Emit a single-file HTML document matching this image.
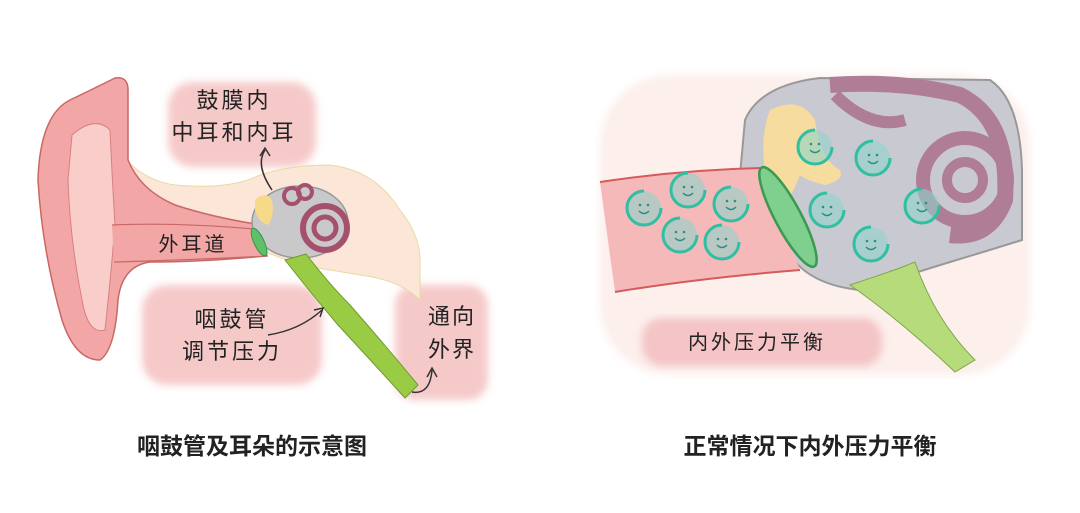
<!DOCTYPE html>
<html><head><meta charset="utf-8"><style>
html,body{margin:0;padding:0;background:#fff;}
svg{display:block;}
text{font-family:"Liberation Sans","Noto Sans CJK SC",sans-serif;fill:#222;}
</style></head><body>
<svg width="1080" height="513" viewBox="0 0 1080 513" xmlns="http://www.w3.org/2000/svg">
<defs>
<filter id="soft"><feGaussianBlur stdDeviation="4"/></filter>
<g id="smile">
<circle r="17" fill="#8fd3c9" opacity="0.6"/>
<circle r="17" fill="none" stroke="#2fbfa3" stroke-width="3" stroke-dasharray="80 27"/>
<circle cx="-4" cy="-3" r="1.3" fill="#2a8f80"/><circle cx="4" cy="-3" r="1.3" fill="#2a8f80"/>
<path d="M-5 3 Q0 8 5 3" stroke="#2a8f80" stroke-width="1.5" fill="none"/>
</g>
</defs>

<!-- LEFT FIGURE -->
<g filter="url(#soft)" fill="#f6c9c9">
<rect x="168" y="82" width="148" height="85" rx="25"/>
<rect x="142" y="285" width="180" height="100" rx="25"/>
<rect x="395" y="285" width="93" height="115" rx="20"/>
</g>
<!-- peach region -->
<path d="M118 150 Q140 180 175 185 Q230 190 260 175 Q290 165 330 165 Q375 170 400 210 Q420 235 420 260 L420 300 Q400 280 360 275 L300 265 L260 250 L130 250 Z" fill="#fbe6d8" stroke="#e8dba0" stroke-width="1"/>
<!-- ear -->
<path d="M115 78 Q128 76 128 90 L128 160 Q140 190 175 205 Q215 218 262 225 L266 256 Q200 262 150 262 Q122 266 118 300 Q115 350 100 360 Q75 360 62 320 Q42 250 38 180 Q40 115 70 100 Q95 88 115 78 Z" fill="#f3a6a6" stroke="#c96767" stroke-width="1.5"/>
<path d="M72 135 Q95 115 110 130 Q112 175 115 225 Q110 285 105 330 Q88 335 82 300 Q70 240 68 180 Z" fill="#f8cdca" stroke="#d88080" stroke-width="1"/>
<path d="M112 225 L265 230 L268 256 L114 262 Z" fill="#f3a6a6"/>
<path d="M112 225 Q180 222 265 230 M114 262 Q190 260 268 256" stroke="#c96767" stroke-width="1.2" fill="none"/>
<!-- middle ear -->
<ellipse cx="300" cy="222" rx="48" ry="36" fill="#c9c9cc" stroke="#999" stroke-width="1.5"/>
<path d="M255 200 Q265 190 272 200 Q275 215 268 225 Q258 222 255 210 Z" fill="#f7d98a"/>
<circle cx="325" cy="228" r="22" fill="none" stroke="#a5506c" stroke-width="6"/>
<circle cx="325" cy="228" r="11" fill="none" stroke="#a5506c" stroke-width="5"/>
<circle cx="292" cy="196" r="8" fill="none" stroke="#a5506c" stroke-width="4"/>
<circle cx="305" cy="192" r="7" fill="none" stroke="#a5506c" stroke-width="4"/>
<ellipse cx="259" cy="242" rx="5" ry="15" transform="rotate(-25 259 242)" fill="#5fbf6a" stroke="#2f9a45"/>
<!-- eustachian tube -->
<path d="M285 260 L306 254 Q330 285 350 305 Q385 345 418 385 L405 398 Q375 365 338 325 Q310 292 285 260 Z" fill="#9acb45" stroke="#6f9a2c" stroke-width="1"/>
<!-- arrows -->
<path d="M272 190 Q255 165 265 150" stroke="#333" stroke-width="1.5" fill="none"/>
<path d="M260 156 L265 148 L270 156" stroke="#333" stroke-width="1.5" fill="none"/>
<path d="M268 335 Q300 330 322 310" stroke="#333" stroke-width="1.5" fill="none"/>
<path d="M314 310 L323 308 L320 317" stroke="#333" stroke-width="1.5" fill="none"/>
<path d="M412 392 Q430 395 432 370" stroke="#333" stroke-width="1.5" fill="none"/>
<path d="M427 377 L432 368 L437 377" stroke="#333" stroke-width="1.5" fill="none"/>
<!-- labels -->
<text x="234" y="108" font-size="22" text-anchor="middle" letter-spacing="3">鼓膜内</text>
<text x="234" y="140" font-size="22" text-anchor="middle" letter-spacing="3">中耳和内耳</text>
<text x="193" y="251" font-size="20" text-anchor="middle" letter-spacing="3">外耳道</text>
<text x="232" y="327" font-size="22" text-anchor="middle" letter-spacing="3">咽鼓管</text>
<text x="232" y="359" font-size="22" text-anchor="middle" letter-spacing="3">调节压力</text>
<text x="452" y="324" font-size="22" text-anchor="middle" letter-spacing="2">通向</text>
<text x="452" y="357" font-size="22" text-anchor="middle" letter-spacing="2">外界</text>
<text x="252" y="454" font-size="23" font-weight="bold" text-anchor="middle">咽鼓管及耳朵的示意图</text>

<!-- RIGHT FIGURE -->
<rect x="600" y="75" width="430" height="300" rx="70" fill="#fcefec" filter="url(#soft)"/>
<path d="M745 120 Q760 85 820 78 L990 80 Q1020 100 1022 170 L1022 240 Q990 250 950 262 L860 290 Q810 285 790 255 L740 175 Z" fill="#c9c9d1" stroke="#999" stroke-width="2"/>
<!-- cochlea -->
<path d="M830 85 Q900 80 960 95 Q1010 120 1005 200 Q990 240 950 235" fill="none" stroke="#b07d96" stroke-width="16"/>
<circle cx="965" cy="180" r="42" fill="none" stroke="#b07d96" stroke-width="14"/>
<circle cx="965" cy="180" r="18" fill="none" stroke="#b07d96" stroke-width="10"/>
<path d="M835 95 Q870 130 905 120" fill="none" stroke="#b07d96" stroke-width="12"/>
<!-- yellow -->
<path d="M770 110 Q800 95 815 120 Q820 160 840 170 Q845 180 825 185 Q805 180 800 175 Q790 200 780 210 Q768 200 765 170 Q760 135 770 110 Z" fill="#f6dc9e"/>
<!-- canal -->
<path d="M600 182 Q680 170 760 168 L800 270 Q700 278 615 292 Z" fill="#f6b9b9"/>
<path d="M600 182 Q680 170 760 168" stroke="#d45b5b" stroke-width="2" fill="none"/>
<path d="M615 292 Q700 278 800 270" stroke="#d45b5b" stroke-width="2" fill="none"/>
<ellipse cx="788" cy="217" rx="13" ry="56" transform="rotate(-28 788 217)" fill="#7fcf8f" stroke="#3a9a50" stroke-width="2.5"/>
<!-- tube -->
<path d="M850 285 Q880 275 900 268 L915 262 Q935 320 975 360 L955 372 Q900 320 850 285 Z" fill="#b5db7a" stroke="#7fa54a" stroke-width="1"/>
<!-- smileys -->
<use href="#smile" x="644" y="208"/>
<use href="#smile" x="688" y="190"/>
<use href="#smile" x="731" y="204"/>
<use href="#smile" x="680" y="235"/>
<use href="#smile" x="722" y="242"/>
<use href="#smile" x="815" y="147"/>
<use href="#smile" x="873" y="158"/>
<use href="#smile" x="827" y="210"/>
<use href="#smile" x="922" y="206"/>
<use href="#smile" x="871" y="244"/>
<!-- label cloud -->
<rect x="642" y="318" width="240" height="48" rx="20" fill="#f4c4c6" filter="url(#soft)"/>
<text x="757" y="349" font-size="20" text-anchor="middle" letter-spacing="3">内外压力平衡</text>
<text x="810" y="454" font-size="23" font-weight="bold" text-anchor="middle">正常情况下内外压力平衡</text>
</svg>
</body></html>
